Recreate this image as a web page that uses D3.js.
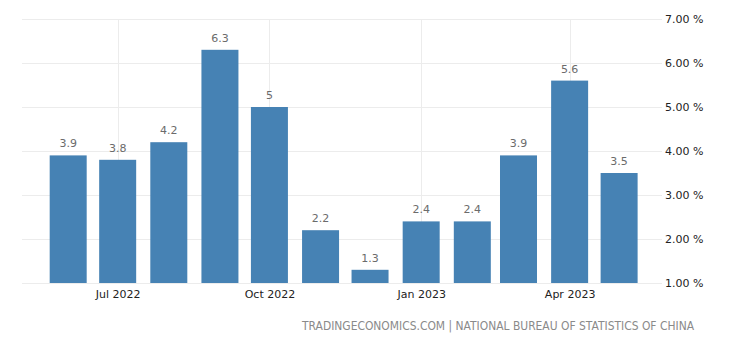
<!DOCTYPE html>
<html>
<head>
<meta charset="utf-8">
<script src="https://cdn.jsdelivr.net/npm/d3@7"></script>
<style>
  html, body { margin: 0; padding: 0; background: #fff; }
  svg { display: block; }
</style>
</head>
<body>
<svg id="chart" width="740" height="345"></svg>
<script>
// Monthly series, Jun 2022 – May 2023
const months = ["2022-06", "2022-07", "2022-08", "2022-09", "2022-10", "2022-11",
                "2022-12", "2023-01", "2023-02", "2023-03", "2023-04", "2023-05"];
const values = [3.9, 3.8, 4.2, 6.3, 5, 2.2, 1.3, 2.4, 2.4, 3.9, 5.6, 3.5];
const yTicks = [1, 2, 3, 4, 5, 6, 7];
const xTickMonths = ["2022-07", "2022-10", "2023-01", "2023-04"];
const sourceText = "TRADINGECONOMICS.COM | NATIONAL BUREAU OF STATISTICS OF CHINA";

const parse = d3.timeParse("%Y-%m");
const data = months.map((m, i) => ({ date: parse(m), value: values[i] }));

const svg = d3.select("#chart");
const plotLeft = 22, plotRight = 662, plotTop = 19, plotBottom = 283;

const x = d3.scaleTime()
  .domain([new Date(2022, 4, 4), new Date(2023, 4, 27)])
  .range([plotLeft, plotRight]);

const y = d3.scaleLinear().domain([1, 7]).range([plotBottom, plotTop]);

const barW = 37;
const font = "'DejaVu Sans', Verdana, sans-serif";

// horizontal grid
svg.append("g")
  .selectAll("line")
  .data(yTicks)
  .join("line")
  .attr("x1", plotLeft).attr("x2", plotRight)
  .attr("y1", d => Math.round(y(d)) + 0.5).attr("y2", d => Math.round(y(d)) + 0.5)
  .attr("stroke", "#ececec").attr("stroke-width", 1);

// vertical grid at the labelled months
const xTicks = xTickMonths.map(parse);
svg.append("g")
  .selectAll("line")
  .data(xTicks)
  .join("line")
  .attr("x1", d => Math.round(x(d)) + 0.5).attr("x2", d => Math.round(x(d)) + 0.5)
  .attr("y1", plotTop).attr("y2", plotBottom)
  .attr("stroke", "#ececec").attr("stroke-width", 1);

// bars
svg.append("g")
  .selectAll("rect")
  .data(data)
  .join("rect")
  .attr("x", d => x(d.date) - barW / 2)
  .attr("width", barW)
  .attr("y", d => y(d.value))
  .attr("height", d => y(1) - y(d.value))
  .attr("fill", "#4682b4");

// value labels
svg.append("g")
  .selectAll("text")
  .data(data)
  .join("text")
  .attr("x", d => x(d.date))
  .attr("y", d => y(d.value) - 8)
  .attr("text-anchor", "middle")
  .attr("font-family", font)
  .attr("font-size", 11)
  .attr("fill", "#6b6b6b")
  .text(d => d3.format("")(d.value));

// x axis labels
const xAxis = d3.axisBottom(x)
  .tickValues(xTicks)
  .tickFormat(d3.timeFormat("%b %Y"))
  .tickSize(0)
  .tickPadding(0);
const gx = svg.append("g").attr("transform", `translate(0,${plotBottom})`).call(xAxis);
gx.select(".domain").remove();
gx.selectAll("text")
  .attr("dy", null)
  .attr("y", 15)
  .attr("font-family", font)
  .attr("font-size", 11)
  .attr("fill", "#222");

// y axis labels on the right
const yAxis = d3.axisRight(y)
  .tickValues(yTicks)
  .tickFormat(d => d3.format(".2f")(d) + " %")
  .tickSize(0)
  .tickPadding(0);
const gy = svg.append("g").attr("transform", `translate(${plotRight + 3},0)`).call(yAxis);
gy.select(".domain").remove();
gy.selectAll("text")
  .attr("font-family", font)
  .attr("font-size", 11)
  .attr("fill", "#222");

// source line
svg.append("text")
  .attr("x", 694)
  .attr("y", 330)
  .attr("text-anchor", "end")
  .attr("font-family", font)
  .attr("font-size", 11.5)
  .attr("fill", "#8a8a8a")
  .attr("textLength", 392)
  .attr("lengthAdjust", "spacingAndGlyphs")
  .text(sourceText);
</script>
</body>
</html>
